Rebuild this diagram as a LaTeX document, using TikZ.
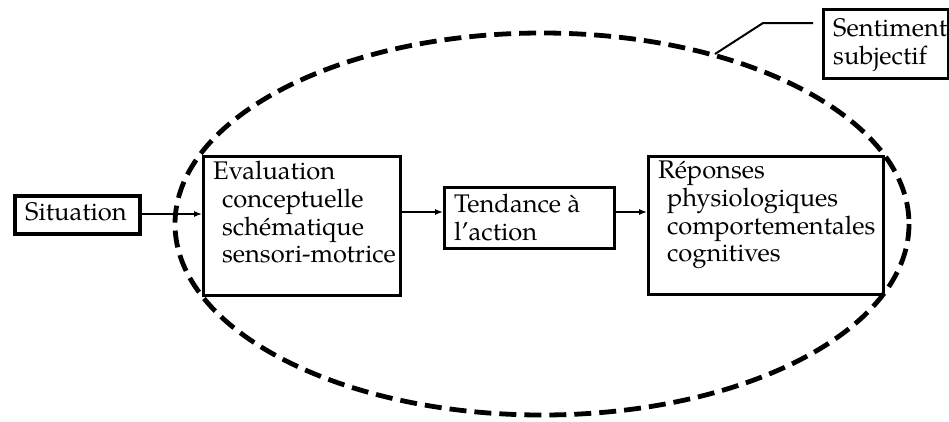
\documentclass[tikz,border=0pt]{standalone}
\usepackage{fontspec}
\setmainfont{texgyrepagella-regular.otf}
\usetikzlibrary{arrows.meta}

\tikzset{
  box/.style={draw, line width=3.2pt, rectangle, inner sep=0pt, anchor=north west},
  txt/.style={anchor=north west, inner sep=0pt, align=left,
              font=\fontsize{25.5}{27.7}\selectfont},
  flow/.style={line width=1.2pt, -{Latex[length=8pt,width=6pt]}},
  halo/.style={line width=4.8pt, dash pattern=on 17pt off 8pt},
  lead/.style={line width=2pt}
}

\begin{document}
\begin{tikzpicture}[x=1pt, y=-1pt]
  \useasboundingbox (0,0) rectangle (949,421);

  % the dashed envelope around the appraisal chain
  \draw[halo] (542,224) ellipse [x radius=367, y radius=191];

  % boxes
  \node[box, line width=3.6pt, minimum width=125pt, minimum height=38pt] (sit) at (13,194) {};
  \node[box, minimum width=197pt, minimum height=139pt] (eval) at (202,155) {};
  \node[box, minimum width=170pt, minimum height=61pt] (tend) at (443,186) {};
  \node[box, minimum width=235pt, minimum height=138pt] (rep) at (647,155) {};
  \node[box, minimum width=125pt, minimum height=69pt] (sent) at (822,8) {};

  % box texts
  \node[txt] (sittxt) at ([shift={(12,8)}]sit.north west) {Situation};
  \node[txt] (evaltxt) at ([shift={(11,6)}]eval.north west)
    {Evaluation\\\hspace{0.35em}conceptuelle\\\hspace{0.35em}schématique\\\hspace{0.35em}sensori-motrice};
  \node[txt] (tendtxt) at ([shift={(11,8)}]tend.north west)
    {Tendance à\\l’action};
  \node[txt] (reptxt) at ([shift={(11,6)}]rep.north west)
    {Réponses\\\hspace{0.35em}physiologiques\\\hspace{0.35em}comportementales\\\hspace{0.35em}cognitives};
  \node[txt, font=\fontsize{25.5}{28}\selectfont] (senttxt) at ([shift={(11,10)}]sent.north west)
    {Sentiment\\subjectif};

  % flow of the process
  \coordinate (row) at (0,212);
  \draw[flow] (sit.east |- 0,214) -- (eval.west |- 0,214);
  \draw[flow] (eval.east |- row) -- (tend.west |- row);
  \draw[flow] (tend.east |- row) -- (rep.west |- row);

  % leader from the label to the envelope
  \coordinate (start) at (813,23);
  \coordinate (knee) at (763,23);
  \coordinate (touch) at (715,54);
  \draw[lead] (start) -- (knee) -- (touch);
\end{tikzpicture}
\end{document}
